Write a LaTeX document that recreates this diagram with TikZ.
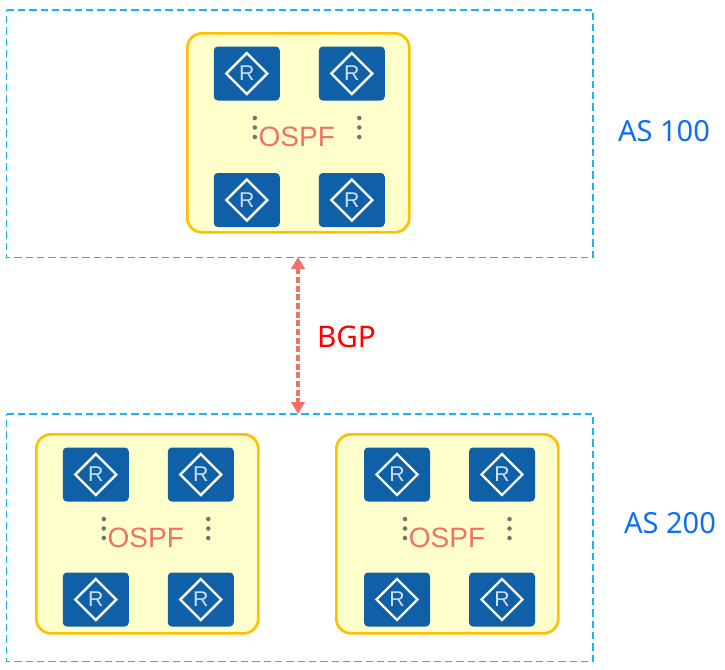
\documentclass[tikz,border=0pt]{standalone}
\usepackage{fontspec}
\setmainfont{Liberation Sans}
\newfontfamily\labelfont{Noto Sans}
\usetikzlibrary{shapes.geometric,arrows.meta}
\definecolor{asline}{HTML}{18B4F8}
\definecolor{areaedge}{HTML}{FFC000}
\definecolor{areafill}{HTML}{FFFFCC}
\definecolor{routerblue}{HTML}{1060A8}
\definecolor{ospfred}{HTML}{F0706A}
\definecolor{aslabel}{HTML}{0F6FF0}
\tikzset{
  asbox/.style={anchor=north west,inner sep=0pt,minimum width=439.5pt,minimum height=185.25pt},
  asedge/.style={draw=asline,line width=1.05pt,dash pattern=on 5.5pt off 3pt},
  areabox/.style={draw=areaedge,fill=areafill,line width=2pt,rounded corners=11pt,anchor=north west,inner sep=0pt,minimum width=166.5pt,minimum height=149.25pt},
  routerbox/.style={fill=routerblue,rounded corners=3pt,inner sep=0pt,minimum width=49.5pt,minimum height=40.5pt},
  routermark/.style={diamond,draw=white,line width=1.8pt,aspect=1,inner sep=0pt,minimum size=31.5pt,text=white!80!routerblue,font=\fontsize{16}{16}\selectfont},
  vdot/.style={circle,fill=black!55,inner sep=0pt,minimum size=3.4pt},
  ospf/.style={text=ospfred,font=\fontsize{21}{21}\selectfont,inner sep=0pt},
  aslab/.style={text=aslabel,font=\labelfont\fontsize{21.8}{22}\selectfont,inner sep=0pt},
  bgplab/.style={text=red,font=\labelfont\fontsize{22.3}{22}\selectfont,inner sep=0pt},
  link/.style={draw=ospfred,line width=2.5pt,dash pattern=on 4.5pt off 2pt,{Triangle[length=9pt,width=10pt]}-{Triangle[length=9pt,width=10pt]}}
}
% #1 name prefix, #2 x, #3 y, #4 second row offset, #5 box x
\newcommand{\ospfarea}[5]{%
  \node[areabox] (#1) at (#5,#3) {};
  \foreach \n/\dx/\dy in {a/60.5/41.5,b/165.5/41.5,c/60.5/#4,d/165.5/#4}{
    \node[routerbox] (#1\n) at ({#2+\dx},{#3+\dy}) {};
    \node[routermark] (#1\n m) at (#1\n) {R};
  }
  \foreach \n/\dx in {l/68.5,r/173}{
    \foreach \m/\dy in {1/86,2/95.5,3/105}{
      \node[vdot] (#1\n\m) at ({#2+\dx},{#3+\dy}) {};
    }
  }
  \node[ospf] (#1t) at ({#2+110.5},{#3+105}) {OSPF};
}
\begin{document}
\begin{tikzpicture}[x=0.75pt,y=-0.75pt]
\useasboundingbox (0,0) rectangle (725,669);
\fill[white] (0,0) rectangle (725,669);
\node[asbox] (as1) at (6.5,10) {};
\node[asbox] (as2) at (6.5,414) {};
\foreach \b in {as1,as2}{
  \draw[asedge] (\b.north west) -- (\b.north east) -- (\b.south east) -- (\b.south west) -- cycle;
}
\ospfarea{p}{186.3}{32}{168}{186}
\ospfarea{q}{35.3}{433}{166.5}{35}
\ospfarea{r}{336.5}{433}{166.5}{335}
\coordinate (lt) at (298,257);
\coordinate (lb) at (298,414);
\draw[link] (lt) -- (lb);
\node[bgplab] (bgp) at (346.5,337) {BGP};
\node[aslab] (l1) at (664,131) {AS 100};
\node[aslab] (l2) at (670,523) {AS 200};
\end{tikzpicture}
\end{document}
